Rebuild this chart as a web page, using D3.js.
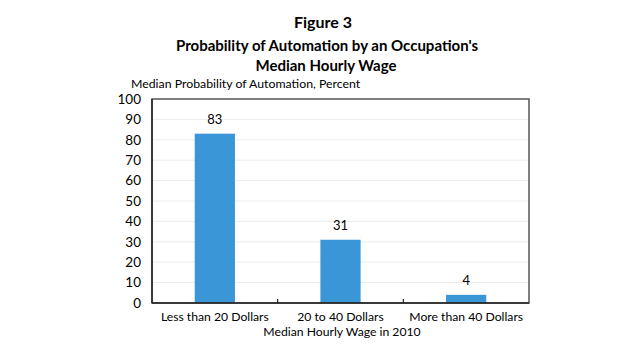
<!DOCTYPE html>
<html><head><meta charset="utf-8">
<script src="https://cdn.jsdelivr.net/npm/d3@7"></script>
<style>body{margin:0;background:#fff;} text{font-family:Lato, "Open Sans", sans-serif;}</style>
</head><body>
<svg id="c" width="640" height="360"></svg>
<script>
const categories = ["Less than 20 Dollars", "20 to 40 Dollars", "More than 40 Dollars"];
const values = [83, 31, 4];
const yTicks = [0,10,20,30,40,50,60,70,80,90,100];
const figTitle = "Figure 3";
const titleLines = ["Probability of Automation by an Occupation's", "Median Hourly Wage"];
const yTitle = "Median Probability of Automation, Percent";
const xTitle = "Median Hourly Wage in 2010";

const svg = d3.select("#c");
const m = {left:152, right:529, top:99, bottom:303};
const x = d3.scaleBand().domain(categories).range([m.left, m.right]).paddingInner(0.68).paddingOuter(0.34);
const y = d3.scaleLinear().domain([0,100]).range([m.bottom, m.top]);

// gridlines
svg.append("g").selectAll("line").data(yTicks.filter(t=>t>0&&t<100)).join("line")
  .attr("x1", m.left).attr("x2", m.right).attr("y1", d=>y(d)).attr("y2", d=>y(d))
  .attr("stroke", "#ececec").attr("stroke-width", 1);

// bars
svg.append("g").selectAll("rect").data(values).join("rect")
  .attr("x", (d,i)=>x(categories[i])).attr("width", x.bandwidth())
  .attr("y", d=>y(d)).attr("height", d=>y(0)-y(d)).attr("fill", "#3a96d7");

// value labels
svg.append("g").selectAll("text").data(values).join("text")
  .attr("x", (d,i)=>x(categories[i])+x.bandwidth()/2).attr("y", d=>y(d)-10)
  .attr("text-anchor","middle").attr("font-size", 13).attr("fill","#000").text(d=>d);

// frame
svg.append("rect").attr("x", m.left).attr("y", m.top).attr("width", m.right-m.left).attr("height", m.bottom-m.top)
  .attr("fill","none").attr("stroke","#555").attr("stroke-width",1.5);
svg.append("line").attr("x1", m.left).attr("x2", m.right).attr("y1", m.bottom).attr("y2", m.bottom).attr("stroke","#222").attr("stroke-width",1.5);
svg.append("line").attr("x1", m.left).attr("x2", m.left).attr("y1", m.top).attr("y2", m.bottom).attr("stroke","#222").attr("stroke-width",1.5);

// y axis
const ya = svg.append("g").attr("transform", `translate(${m.left},0)`)
  .call(d3.axisLeft(y).tickValues(yTicks).tickSize(0).tickPadding(11));
ya.select(".domain").remove();
ya.selectAll("text").attr("font-size", 13.5).attr("fill","#000").style("font-family","Lato, 'Open Sans', sans-serif");

// x axis
const xa = svg.append("g").attr("transform", `translate(0,${m.bottom})`)
  .call(d3.axisBottom(x).tickSize(0).tickPadding(9));
xa.select(".domain").remove();
xa.selectAll("text").attr("font-size", 12.2).attr("fill","#000").style("font-family","Lato, 'Open Sans', sans-serif");
// category boundary ticks (inside)
const step = x.step();
svg.append("g").selectAll("line").data(categories.slice(1)).join("line")
  .attr("x1", d=>x(d)-x.paddingInner()*step/2).attr("x2", d=>x(d)-x.paddingInner()*step/2)
  .attr("y1", m.bottom).attr("y2", m.bottom-4).attr("stroke","#222").attr("stroke-width",1.2);

// titles
svg.append("text").attr("x", 323).attr("y", 28).attr("text-anchor","middle").attr("font-size",16).attr("font-weight","bold").text(figTitle);
svg.append("text").attr("x", 327).attr("y", 51).attr("text-anchor","middle").attr("font-size",15).attr("font-weight","bold").text(titleLines[0]);
svg.append("text").attr("x", 326).attr("y", 71).attr("text-anchor","middle").attr("font-size",15).attr("font-weight","bold").text(titleLines[1]);
svg.append("text").attr("x", 131).attr("y", 88).attr("font-size", 12.3).text(yTitle);
svg.append("text").attr("x", 342).attr("y", 336).attr("text-anchor","middle").attr("font-size", 12.2).text(xTitle);
</script>
</body></html>
